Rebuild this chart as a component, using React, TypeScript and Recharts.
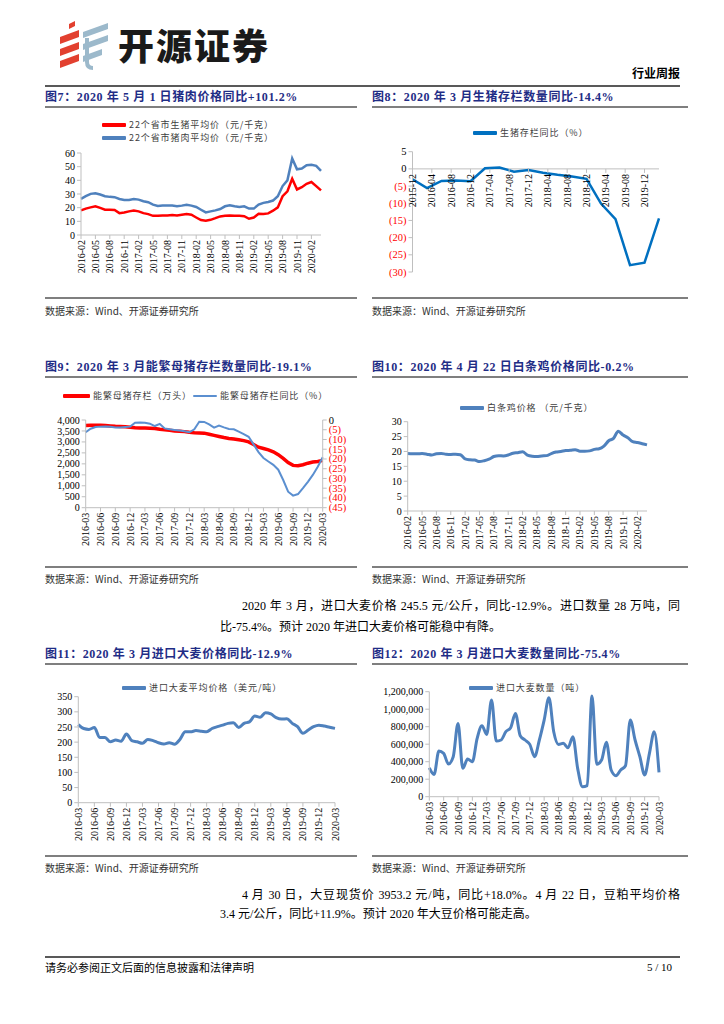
import React from "react";
import { LineChart, Line, XAxis, YAxis, ReferenceLine } from "recharts";

const SERIF = '"Liberation Serif", "Noto Sans CJK SC", serif';
const CJK = '"Noto Sans CJK SC", "Liberation Serif", sans-serif';
const AXIS = "#BFBFBF";
const NAVY = "#1F2D86";
const RED = "#FF0000";
const BLUE = "#4F81BD";

// month labels like 2016-02
function months(y: number, m: number, n: number) {
  const out: string[] = [];
  for (let i = 0; i < n; i++) {
    const mm = m - 1 + i;
    const yy = y + Math.floor(mm / 12);
    out.push(`${yy}-${String((mm % 12) + 1).padStart(2, "0")}`);
  }
  return out;
}

// 图7 猪肉/生猪价格 2016-02 .. 2020-04
const porkMonths = months(2016, 2, 51);
const porkPrice = [
  26.5, 28.4, 30.1, 30.6, 29.6, 28.4, 27.9, 27.7, 26.4, 25.7,
  25.7, 26.4, 25.9, 24.7, 24.0, 22.2, 21.2, 21.5, 21.5, 21.5,
  21.0, 21.5, 22.2, 21.5, 20.5, 18.5, 16.5, 17.3, 18.0, 19.0,
  21.0, 21.7, 21.0, 20.5, 21.0, 19.3, 19.3, 22.2, 23.5, 24.2,
  25.2, 28.4, 35.8, 40.0, 56.0, 48.1, 48.6, 51.1, 51.4, 50.6, 46.9,
];
const hogPrice = [
  18.0, 19.3, 20.2, 21.0, 19.8, 18.5, 18.5, 18.3, 16.0, 16.5,
  17.3, 18.0, 17.3, 16.0, 15.3, 14.0, 14.0, 14.3, 14.3, 14.6,
  14.3, 14.8, 15.3, 14.8, 12.8, 10.9, 10.4, 11.1, 12.3, 13.6,
  14.0, 14.3, 14.0, 14.0, 13.8, 11.9, 12.8, 15.6, 15.3, 15.8,
  17.8, 20.2, 28.4, 32.0, 41.2, 33.3, 35.0, 37.5, 38.8, 35.8, 32.6,
];

// 图8 生猪存栏同比 (quarterly, monthly axis 2015-12 .. 2020-03)
const hogStockMonths = months(2015, 12, 52);
const hogStockYoyQ = [
  -3.0, -5.6, -3.5, -3.4, -3.6, 0.2, 0.4, -0.8, -0.3,
  -1.1, -1.7, -2.2, -2.9, -10.1, -14.6, -28.0, -27.3, -14.4,
];

// 图9 能繁母猪 2016-03 .. 2020-03
const sowMonths = months(2016, 3, 49);
const sowStock = [
  3750, 3760, 3760, 3760, 3750, 3730, 3710, 3700, 3690, 3670,
  3650, 3640, 3630, 3620, 3610, 3580, 3560, 3530, 3500, 3490,
  3470, 3440, 3420, 3410, 3400, 3350, 3300, 3250, 3200, 3160,
  3130, 3100, 3060, 3000, 2880, 2760, 2700, 2640, 2550, 2420,
  2250, 2060, 1930, 1910, 1960, 2030, 2080, 2110, 2160,
];
const sowYoy = [
  -6.3, -4.5, -3.6, -3.4, -3.3, -3.5, -3.8, -3.8, -3.6, -3.4,
  -1.4, -1.3, -1.4, -1.9, -3.1, -2.0, -4.3, -4.8, -5.1, -5.4,
  -5.8, -6.3, -4.8, -0.9, -1.0, -2.3, -3.9, -2.9, -3.8, -4.6,
  -4.8, -6.0, -7.2, -8.6, -12.5, -16.5, -19.5, -21.3, -23.0, -25.5,
  -30.8, -36.8, -38.8, -38.0, -35.0, -31.7, -28.2, -24.0, -19.1,
];

// 图10 白条鸡价格 2016-02 .. 2020-04
const chickenMonths = months(2016, 2, 51);
const chickenPrice = [
  19.3, 19.2, 19.2, 19.3, 19.1, 18.8, 19.2, 19.3, 19.1, 19.0,
  19.1, 18.9, 17.5, 17.2, 17.1, 16.6, 16.9, 17.4, 18.3, 18.6,
  18.5, 18.8, 19.4, 19.6, 19.9, 18.8, 18.4, 18.3, 18.5, 18.6,
  19.3, 19.8, 20.0, 20.3, 20.4, 20.6, 20.1, 20.1, 20.2, 20.7,
  20.9, 21.8, 23.6, 24.4, 26.8, 25.5, 24.6, 23.3, 23.0, 22.6, 22.2,
];

// 图11/12 进口大麦 2016-03 .. 2020-03
const barleyMonths = months(2016, 3, 49);
const barleyPrice = [
  258, 245, 242, 248, 215, 215, 201, 207, 203, 227,
  205, 201, 196, 209, 205, 198, 194, 198, 193, 209,
  234, 234, 238, 236, 234, 245, 251, 256, 262, 264,
  248, 262, 267, 286, 282, 297, 293, 281, 276, 277,
  262, 251, 229, 240, 251, 256, 253, 249, 245.5,
];
const barleyVolume = [
  330000, 255000, 522000, 495000, 373000, 457000, 838000, 324000, 430000, 400000,
  667000, 811000, 712000, 1105000, 636000, 648000, 743000, 789000, 952000, 697000,
  648000, 598000, 457000, 648000, 876000, 1131000, 743000, 598000, 610000, 560000,
  686000, 324000, 114000, 126000, 1150000, 370000, 419000, 621000, 305000, 240000,
  305000, 354000, 876000, 648000, 457000, 248000, 495000, 743000, 278000,
];

const porkData = porkMonths.map((m, i) => ({ m, pork: porkPrice[i], hog: hogPrice[i] }));
const hogStockData = hogStockMonths.map((m, i) => ({
  m,
  v: i % 3 === 0 ? hogStockYoyQ[i / 3] ?? null : null,
}));
const sowData = sowMonths.map((m, i) => ({ m, stock: sowStock[i], yoy: sowYoy[i] }));
const chickenData = chickenMonths.map((m, i) => ({ m, v: chickenPrice[i] }));
const barleyPriceData = barleyMonths.map((m, i) => ({ m, v: barleyPrice[i] }));
const barleyVolData = barleyMonths.map((m, i) => ({ m, v: barleyVolume[i] }));

const steps = (a: number, b: number, s: number) => {
  const r: number[] = [];
  for (let v = a; v <= b + 1e-9; v += s) r.push(v);
  return r;
};

const yTick = { fontSize: 10, fill: "#000", fontFamily: SERIF };
const paren = (v: number) => (v < 0 ? `(${-v})` : `${v}`);

function RotTick(props: any) {
  const { x, y, payload, lift = 0, mark = false } = props;
  return (
    <g transform={`translate(${x},${y - lift})`}>
      {mark && <line x1={0} y1={0} x2={0} y2={4} stroke={AXIS} />}
      <text
        transform="rotate(-90)"
        x={mark ? -5 : 0}
        y={0}
        textAnchor="end"
        dominantBaseline="central"
        fontSize={10}
        fontFamily={SERIF}
        fill="#000"
      >
        {payload.value}
      </text>
    </g>
  );
}

function ParenTick(props: any) {
  const { x, y, payload, textAnchor } = props;
  const v = payload.value as number;
  return (
    <text
      x={x}
      y={y}
      textAnchor={textAnchor}
      dominantBaseline="central"
      fontSize={10.5}
      fontFamily={SERIF}
      fill={v < 0 ? RED : "#000"}
    >
      {paren(v)}
    </text>
  );
}

function T({ x, y, size = 12, children, style }: any) {
  return (
    <div
      style={{
        position: "absolute",
        left: x,
        top: y - size * 0.65,
        fontSize: size,
        lineHeight: `${size * 1.3}px`,
        whiteSpace: "nowrap",
        ...style,
      }}
    >
      {children}
    </div>
  );
}

function HLine({ x1, x2, y, color = "#7F7F7F", w = 1.5 }: any) {
  return (
    <div
      style={{
        position: "absolute",
        left: x1,
        top: y - w / 2,
        width: x2 - x1,
        height: w,
        background: color,
      }}
    />
  );
}

function LegendItem({ x, y, color, label, w = 24, lw = 3.5 }: any) {
  return (
    <>
      <div
        style={{
          position: "absolute",
          left: x,
          top: y - lw / 2,
          width: w,
          height: lw,
          background: color,
          borderRadius: 1,
        }}
      />
      <T x={x + w + 3} y={y} size={9} style={{ fontFamily: CJK, color: "#404040", letterSpacing: 0.9 }}>
        {label}
      </T>
    </>
  );
}

function Title({ x, y, children }: any) {
  return (
    <T x={x} y={y} size={12} style={{ fontFamily: SERIF, color: NAVY, fontWeight: 700, letterSpacing: 0.6 }}>
      {children}
    </T>
  );
}

function Source({ x, y }: any) {
  return (
    <T x={x} y={y} size={10} style={{ fontFamily: CJK, color: "#333" }}>
      数据来源：Wind、开源证券研究所
    </T>
  );
}

const xAxisCommon = {
  dataKey: "m",
  interval: 2,
  height: 45,
  axisLine: { stroke: AXIS },
  tickLine: { stroke: AXIS },
  tickSize: 4,
  tickMargin: 1,
  tick: (p: any) => <RotTick {...p} />,
};

const yAxisCommon = {
  axisLine: { stroke: AXIS },
  tickLine: { stroke: AXIS },
  tickSize: 4,
  tick: yTick,
  interval: 0 as const,
};

// chart 8 geometry: x axis drawn at y=0
const c8 = { h: 200, top: 41.7, bottom: 28, xh: 10 };
const c8PlotH = c8.h - c8.top - c8.bottom - c8.xh;
const c8Lift = (c8PlotH * 30) / 35;

function Logo() {
  return (
    <svg width={56} height={50} style={{ position: "absolute", left: 56, top: 20 }}>
      <polygon points="13,4 19,1 19,6 13,9" fill="#E2402F" />
      <polygon points="4,17 23,10 23,17 4,24" fill="#E2402F" />
      <polygon points="4,29 23,22 23,29 4,36" fill="#E2402F" />
      <polygon points="4,41 23,34 23,41 4,48" fill="#E2402F" />
      <polygon points="27,12 52,3 52,9 27,18" fill="#9CB9CB" />
      <polygon points="27,24 52,15 52,21 27,30" fill="#9CB9CB" />
      <polygon points="27,36 46,29 46,35 27,42" fill="#9CB9CB" />
      <path d="M31,18 L31,42 Q31,48 37,48" stroke="#9CB9CB" strokeWidth={4} fill="none" />
    </svg>
  );
}

export default function App() {
  return (
    <div
      style={{
        position: "absolute",
        left: 0,
        top: 0,
        width: 724,
        height: 1024,
        background: "#fff",
        overflow: "hidden",
        fontFamily: SERIF,
      }}
    >
      {/* header */}
      <Logo />
      <T x={118} y={44} size={36} style={{ fontFamily: CJK, fontWeight: 900, color: "#1a1a1a", letterSpacing: 2 }}>
        开源证券
      </T>
      <T x={632} y={73} size={12} style={{ fontFamily: CJK, fontWeight: 700, color: "#000" }}>
        行业周报
      </T>
      <HLine x1={45} x2={680} y={86} color="#595959" w={2} />

      {/* row 1 */}
      <Title x={45} y={98}>图7：2020 年 5 月 1 日猪肉价格同比+101.2%</Title>
      <Title x={372} y={98}>图8：2020 年 3 月生猪存栏数量同比-14.4%</Title>
      <HLine x1={45} x2={357} y={107} />
      <HLine x1={372} x2={688} y={107} />

      <LegendItem x={102} y={125} color={RED} label="22个省市生猪平均价（元/千克）" />
      <LegendItem x={102} y={138} color={BLUE} label="22个省市猪肉平均价（元/千克）" />
      <div style={{ position: "absolute", left: 40, top: 110 }}>
        <LineChart width={300} height={200} data={porkData} margin={{ top: 43, right: 19, left: 11, bottom: 30 }}>
          <XAxis {...xAxisCommon} />
          <YAxis {...yAxisCommon} width={30} domain={[0, 60]} ticks={steps(0, 60, 10)} />
          <Line dataKey="hog" stroke={RED} strokeWidth={2.5} dot={false} activeDot={false} isAnimationActive={false} />
          <Line dataKey="pork" stroke={BLUE} strokeWidth={2.5} dot={false} activeDot={false} isAnimationActive={false} />
        </LineChart>
      </div>

      <LegendItem x={473} y={133} color="#0070C0" label="生猪存栏同比（%）" />
      <div style={{ position: "absolute", left: 360, top: 110 }}>
        <LineChart width={320} height={c8.h} data={hogStockData} margin={{ top: c8.top, right: 21, left: 12.5, bottom: c8.bottom }}>
          <ReferenceLine y={0} stroke={AXIS} />
          <XAxis
            dataKey="m"
            interval={3}
            height={c8.xh}
            axisLine={false}
            tickLine={false}
            tickSize={0}
            tickMargin={0}
            tick={(p: any) => <RotTick {...p} lift={c8Lift} mark />}
          />
          <YAxis {...yAxisCommon} width={40} domain={[-30, 5]} ticks={steps(-30, 5, 5)} tick={(p: any) => <ParenTick {...p} />} />
          <Line dataKey="v" stroke="#0070C0" strokeWidth={2.5} dot={false} activeDot={false} connectNulls isAnimationActive={false} />
        </LineChart>
      </div>

      <HLine x1={45} x2={357} y={298} />
      <HLine x1={372} x2={688} y={298} />
      <Source x={45} y={310} />
      <Source x={372} y={310} />

      {/* row 2 */}
      <Title x={45} y={368}>图9：2020 年 3 月能繁母猪存栏数量同比-19.1%</Title>
      <Title x={372} y={368}>图10：2020 年 4 月 22 日白条鸡价格同比-0.2%</Title>
      <HLine x1={45} x2={357} y={377} />
      <HLine x1={372} x2={688} y={377} />

      <LegendItem x={63} y={396} color={RED} label="能繁母猪存栏（万头）" w={27} />
      <LegendItem x={193} y={396} color="#5B8FD0" label="能繁母猪存栏同比（%）" lw={2.5} />
      <div style={{ position: "absolute", left: 40, top: 380 }}>
        <LineChart width={310} height={200} data={sowData} margin={{ top: 40, right: 2.3, left: 5.7, bottom: 27.3 }}>
          <XAxis {...xAxisCommon} />
          <YAxis
            {...yAxisCommon}
            yAxisId="l"
            width={40}
            domain={[0, 4000]}
            ticks={steps(0, 4000, 500)}
            tickFormatter={(v: number) => v.toLocaleString("en-US")}
          />
          <YAxis
            {...yAxisCommon}
            yAxisId="r"
            orientation="right"
            width={25}
            domain={[-45, 0]}
            ticks={steps(-45, 0, 5)}
            tick={(p: any) => <ParenTick {...p} />}
          />
          <Line yAxisId="l" dataKey="stock" stroke={RED} strokeWidth={3.5} dot={false} activeDot={false} isAnimationActive={false} />
          <Line yAxisId="r" dataKey="yoy" stroke="#5B8FD0" strokeWidth={2} dot={false} activeDot={false} isAnimationActive={false} />
        </LineChart>
      </div>

      <LegendItem x={460} y={408} color={BLUE} label="白条鸡价格 （元/千克）" />
      <div style={{ position: "absolute", left: 360, top: 380 }}>
        <LineChart width={320} height={200} data={chickenData} margin={{ top: 41.7, right: 33, left: 17.7, bottom: 24 }}>
          <XAxis {...xAxisCommon} />
          <YAxis {...yAxisCommon} width={30} domain={[0, 30]} ticks={steps(0, 30, 5)} />
          <Line type="monotone" dataKey="v" stroke={BLUE} strokeWidth={3} dot={false} activeDot={false} isAnimationActive={false} />
        </LineChart>
      </div>

      <HLine x1={45} x2={357} y={567} />
      <HLine x1={372} x2={688} y={567} />
      <Source x={45} y={578} />
      <Source x={372} y={578} />

      {/* paragraph 1 */}
      <div
        style={{
          position: "absolute",
          left: 242,
          width: 438,
          top: 598,
          fontSize: 12,
          lineHeight: "16px",
          textAlign: "justify",
          textAlignLast: "justify",
          fontFamily: SERIF,
        }}
      >
        2020 年 3 月，进口大麦价格 245.5 元/公斤，同比-12.9%。进口数量 28 万吨，同
      </div>
      <T x={220} y={628} size={12} style={{ fontFamily: SERIF }}>
        比-75.4%。预计 2020 年进口大麦价格可能稳中有降。
      </T>

      {/* row 3 */}
      <Title x={45} y={655}>图11：2020 年 3 月进口大麦价格同比-12.9%</Title>
      <Title x={372} y={655}>图12：2020 年 3 月进口大麦数量同比-75.4%</Title>
      <HLine x1={45} x2={357} y={664} />
      <HLine x1={372} x2={688} y={664} />

      <LegendItem x={122} y={688} color={BLUE} label="进口大麦平均价格（美元/吨）" />
      <div style={{ position: "absolute", left: 40, top: 660 }}>
        <LineChart width={310} height={190} data={barleyPriceData} margin={{ top: 36.7, right: 15, left: 8.3, bottom: 2.3 }}>
          <XAxis {...xAxisCommon} />
          <YAxis {...yAxisCommon} width={30} domain={[0, 350]} ticks={steps(0, 350, 50)} />
          <Line type="monotone" dataKey="v" stroke={BLUE} strokeWidth={3} dot={false} activeDot={false} isAnimationActive={false} />
        </LineChart>
      </div>

      <LegendItem x={469} y={688} color={BLUE} label="进口大麦数量（吨）" />
      <div style={{ position: "absolute", left: 360, top: 660 }}>
        <LineChart width={320} height={190} data={barleyVolData} margin={{ top: 31.7, right: 21, left: 11.3, bottom: 8.3 }}>
          <XAxis {...xAxisCommon} />
          <YAxis
            {...yAxisCommon}
            width={58}
            domain={[0, 1200000]}
            ticks={steps(0, 1200000, 200000)}
            tickFormatter={(v: number) => v.toLocaleString("en-US")}
          />
          <Line type="monotone" dataKey="v" stroke={BLUE} strokeWidth={3} dot={false} activeDot={false} isAnimationActive={false} />
        </LineChart>
      </div>

      <HLine x1={45} x2={357} y={856} />
      <HLine x1={372} x2={688} y={856} />
      <Source x={45} y={867} />
      <Source x={372} y={867} />

      {/* paragraph 2 */}
      <div
        style={{
          position: "absolute",
          left: 242,
          width: 438,
          top: 887,
          fontSize: 12,
          lineHeight: "16px",
          textAlign: "justify",
          textAlignLast: "justify",
          fontFamily: SERIF,
        }}
      >
        4 月 30 日，大豆现货价 3953.2 元/吨，同比+18.0%。4 月 22 日，豆粕平均价格
      </div>
      <T x={220} y={915} size={12} style={{ fontFamily: SERIF }}>
        3.4 元/公斤，同比+11.9%。预计 2020 年大豆价格可能走高。
      </T>

      {/* footer */}
      <HLine x1={45} x2={680} y={957} color="#595959" w={2} />
      <T x={45} y={967} size={11} style={{ fontFamily: CJK }}>
        请务必参阅正文后面的信息披露和法律声明
      </T>
      <T x={647} y={967} size={11} style={{ fontFamily: SERIF }}>
        5 / 10
      </T>
    </div>
  );
}
